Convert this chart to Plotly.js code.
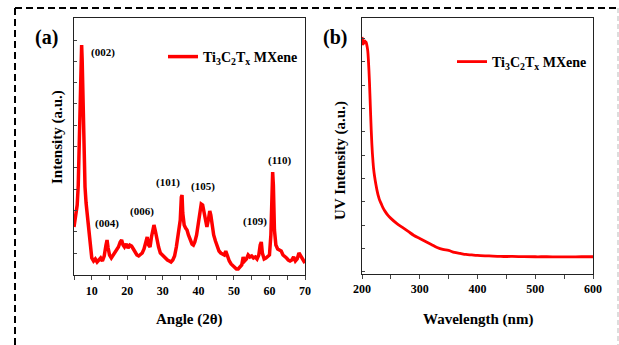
<!DOCTYPE html>
<html>
<head>
<meta charset="utf-8">
<script src="https://cdn.plot.ly/plotly-3.0.1.min.js"></script>
<style>html,body{margin:0;padding:0;background:#fff;}#chart{width:619px;height:345px;}</style>
</head>
<body>
<div id="chart"></div>
<script>
// XRD pattern (a)
const xrdAngle = [5.0,5.3,5.6,5.9,6.2,6.5,6.8,7.0,7.15,7.3,7.5,7.8,8.1,8.4,8.7,9.0,9.3,9.6,10.0,10.5,11.0,11.5,12.0,12.5,13.0,13.5,14.0,14.3,14.6,15.0,15.5,16.0,16.5,17.0,17.5,18.0,18.4,18.8,19.2,19.7,20.2,20.7,21.2,21.7,22.2,22.7,23.2,23.7,24.2,24.7,25.2,25.6,26.0,26.4,26.8,27.2,27.5,27.9,28.3,28.8,29.3,29.8,30.3,30.8,31.3,31.8,32.3,32.8,33.3,33.8,34.2,34.6,34.9,35.2,35.4,35.6,36.0,36.4,36.8,37.2,37.7,38.2,38.6,39.0,39.5,40.0,40.4,40.8,41.2,41.6,42.0,42.4,42.8,43.2,43.5,43.9,44.3,44.8,45.3,45.8,46.3,46.8,47.3,47.7,48.2,48.7,49.2,49.7,50.2,50.7,51.2,51.7,52.2,52.6,53.0,53.5,54.0,54.5,55.0,55.5,56.0,56.5,57.0,57.4,57.7,58.0,58.5,59.0,59.5,60.0,60.4,60.7,60.9,61.1,61.4,61.8,62.3,62.8,63.3,63.8,64.3,64.8,65.3,65.8,66.3,66.8,67.3,67.8,68.3,68.7,69.2,69.6,70.0];
const xrdIntensity = [48,55,62,70,90,130,190,222,230,215,170,120,88,72,62,50,38,26,17,14,16,13,15,17,14,19,30,35,27,20,17,20,22,25,28,33,35,30,28,31,27,30,29,26,22,20,19,21,22,26,33,38,30,28,38,46,50,44,36,28,22,20,18,16,15,14,13,15,19,28,40,45,55,78,80,62,50,47,45,40,34,31,30,33,40,50,62,71,70,62,52,48,55,64,60,46,40,34,29,24,22,21,20,24,18,14,11,9,7,6,6,8,10,18,14,16,20,18,19,17,18,16,20,30,33,22,16,17,18,20,40,85,103,90,45,30,26,25,24,20,19,17,15,14,15,18,14,16,22,20,17,15,12];
const peakLabels = ["(002)","(004)","(006)","(101)","(105)","(109)","(110)"];
const peakLabelX = [13.2,14.4,24.2,31.5,41.4,56.0,63.0];
const peakLabelY = [223,52,64,93,89,54,115];

// UV spectrum (b)
const uvWavelength = [200,201,202,203,204,205,206,207,208,209,210,211,212,213,214,215,216,217,218,219,220,222,224,226,228,230,233,236,240,245,250,260,270,280,290,300,310,320,330,340,350,360,370,380,390,400,420,440,460,480,500,520,540,560,580,600];
const uvIntensity = [236,233,229,230,232,232,231,231,229,226,222,214,203,190,174,158,143,130,120,112,105,96,89,83,78,74,70,66,62,58,55,50,46,42,38,35,32,29,26,24,23,21,20,19,18.5,18,17.5,17,17,16.8,16.7,16.7,16.6,16.6,16.7,16.7];

const seriesName = "Ti<sub>3</sub>C<sub>2</sub>T<sub>x</sub> MXene";
const xTitleA = "Angle (2θ)", yTitleA = "Intensity (a.u.)";
const xTitleB = "Wavelength (nm)", yTitleB = "UV Intensity (a.u.)";

const W = 619, H = 345;
const px = v => v / W, py = v => 1 - v / H;
const FONT = "Liberation Serif";

const traces = [
  {x: xrdAngle, y: xrdIntensity, type: 'scatter', mode: 'lines', name: seriesName,
   line: {color: '#ff0000', width: 3.5}, xaxis: 'x', yaxis: 'y', legend: 'legend'},
  {x: uvWavelength, y: uvIntensity, type: 'scatter', mode: 'lines', name: seriesName,
   line: {color: '#ff0000', width: 2.8, shape: 'spline'}, xaxis: 'x2', yaxis: 'y2', legend: 'legend2'}
];

const axBase = {showline: true, linecolor: '#222', linewidth: 1.3, mirror: true, showgrid: false, zeroline: false,
  tickfont: {family: FONT, size: 12, color: '#000', weight: 'bold'}};

const ann = [];
peakLabels.forEach((t, i) => ann.push({x: peakLabelX[i], y: peakLabelY[i], xref: 'x', yref: 'y', text: t, showarrow: false,
  xanchor: 'center', yanchor: 'middle', font: {family: FONT, size: 11, color: '#000', weight: 'bold'}}));
const txt = (t, x, y, size, angle) => ({x: px(x), y: py(y), xref: 'paper', yref: 'paper', text: t, showarrow: false,
  xanchor: 'center', yanchor: 'middle', textangle: angle || 0, font: {family: FONT, size: size, color: '#000', weight: 'bold'}});
ann.push(txt('(a)', 46, 38, 20));
ann.push(txt('(b)', 335, 38, 20));
ann.push(txt(yTitleA, 57, 137, 15, -90));
ann.push(txt(xTitleA, 190, 319, 15));
ann.push(txt(yTitleB, 340, 160, 15, -90));
ann.push(txt(xTitleB, 478, 319, 15));

const shapes = [
  {type: 'line', xref: 'paper', yref: 'paper', x0: px(15), x1: px(15), y0: py(8), y1: py(345), line: {color: '#000', width: 2, dash: '7px,4px'}},
  {type: 'line', xref: 'paper', yref: 'paper', x0: px(15), x1: px(617), y0: py(8), y1: py(8), line: {color: '#000', width: 2, dash: '7px,4px'}},
  {type: 'line', xref: 'paper', yref: 'paper', x0: px(618), x1: px(618), y0: py(8), y1: py(345), line: {color: '#bbb', width: 1, dash: '5px,3px'}}
];

const legFont = {family: FONT, size: 14, color: '#000', weight: 'bold'};
const layout = {
  width: W, height: H, margin: {l: 0, r: 0, t: 0, b: 0}, paper_bgcolor: '#fff', plot_bgcolor: '#fff',
  showlegend: true,
  xaxis: Object.assign({}, axBase, {domain: [px(74), px(305)], range: [5, 70], tickmode: 'linear', tick0: 10, dtick: 10,
    ticks: 'outside', ticklen: 4, tickwidth: 1, minor: {dtick: 5, ticks: 'outside', ticklen: 4}, anchor: 'y'}),
  yaxis: Object.assign({}, axBase, {domain: [py(275), py(18)], range: [0, 257], showticklabels: false,
    tickmode: 'linear', tick0: 22, dtick: 21.3, ticks: 'inside', ticklen: 3, tickcolor: '#444', anchor: 'x'}),
  xaxis2: Object.assign({}, axBase, {domain: [px(362), px(593)], range: [200, 600], tickmode: 'linear', tick0: 200, dtick: 100,
    ticks: 'outside', ticklen: 4, tickwidth: 1, minor: {dtick: 50, ticks: 'outside', ticklen: 4}, anchor: 'y2'}),
  yaxis2: Object.assign({}, axBase, {domain: [py(273.5), py(18)], range: [0, 255], showticklabels: false,
    tickmode: 'linear', tick0: 25, dtick: 23.3, ticks: 'inside', ticklen: 3, tickcolor: '#444', anchor: 'x2'}),
  legend: {x: px(163), y: py(57), xanchor: 'left', yanchor: 'middle', bgcolor: 'rgba(0,0,0,0)', font: legFont, itemwidth: 30},
  legend2: {x: px(452), y: py(62), xanchor: 'left', yanchor: 'middle', bgcolor: 'rgba(0,0,0,0)', font: legFont, itemwidth: 30},
  annotations: ann, shapes: shapes
};

Plotly.newPlot('chart', traces, layout, {staticPlot: true, displayModeBar: false});
</script>
</body>
</html>
